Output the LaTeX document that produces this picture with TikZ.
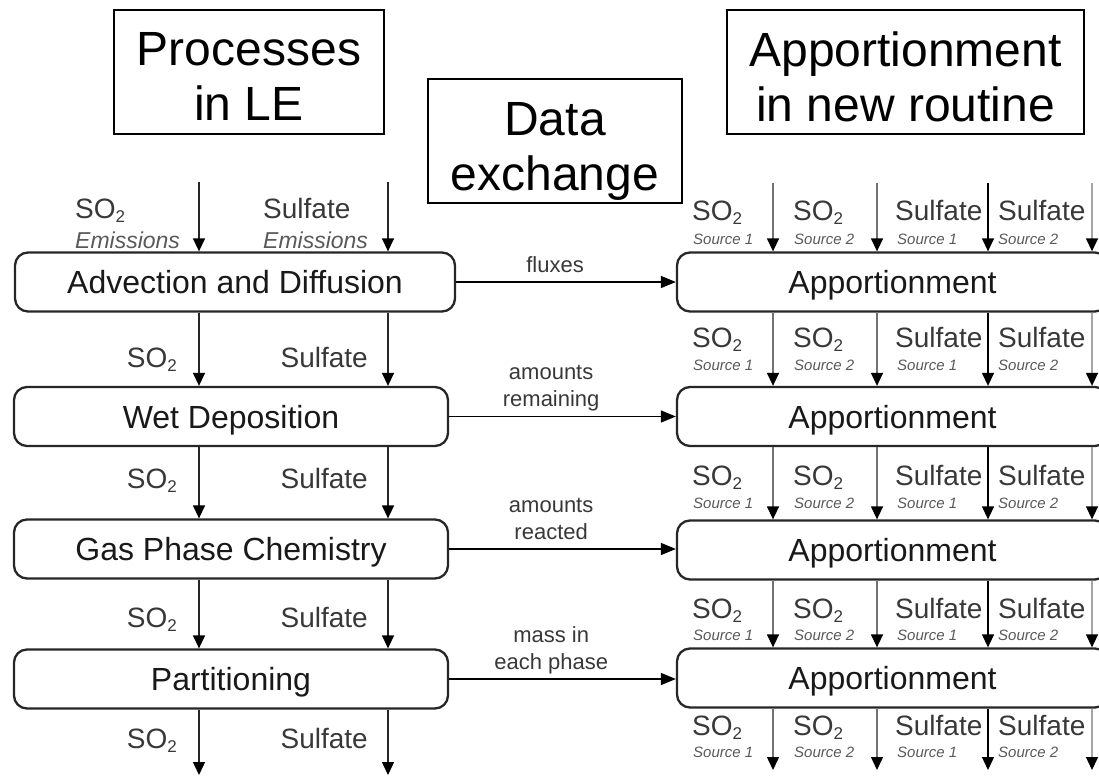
\documentclass[tikz,border=0pt]{standalone}
\usepackage{fontspec}
\setmainfont{Liberation Sans}
\usetikzlibrary{arrows.meta}
\newcommand{\SOtwo}{SO\raisebox{-4pt}{\fontsize{17}{17}\selectfont 2}}
\begin{document}
\begin{tikzpicture}[x=1pt,y=-1pt,
  hdr/.style={draw=black, line width=1.8pt, inner sep=0pt, minimum height=124pt},
  hdrtxt/.style={font=\fontsize{48}{55}\selectfont, align=center, inner sep=0pt, anchor=north},
  proc/.style={draw=black!85, line width=2.3pt, rounded corners=13pt, minimum height=59pt,
    inner sep=0pt, text height=23pt, text depth=0pt, font=\fontsize{32}{36}\selectfont, text=black!90},
  flow/.style={line width=1.4pt, draw=black!85, -{Triangle[length=13pt,width=12pt,color=black]}},
  xflow/.style={line width=1.5pt, draw=black, -{Triangle[length=15pt,width=12pt]}},
  lab/.style={font=\fontsize{28}{30}\selectfont, text=black!78, inner sep=0pt},
  emi/.style={font=\fontsize{23}{25}\selectfont\itshape, text=black!65, inner sep=0pt},
  src/.style={font=\fontsize{15}{17}\selectfont\itshape, text=black!65, inner sep=0pt},
  xlab/.style={font=\fontsize{22}{27}\selectfont, text=black!78, align=center, inner sep=0pt, text depth=0pt}
]
\useasboundingbox (0,0) rectangle (1099,777);
\clip (0,0) rectangle (1099,777);

% headers
\node[hdr, minimum width=270pt] (hP) at (249,72) {};
\node[hdrtxt] (hPt) at (249,32) {Processes\\in LE};
\node[hdr, minimum width=254pt] (hD) at (555,141) {};
\node[hdrtxt] (hDt) at (555,102) {Data\\exchange};
\node[hdr, minimum width=357pt] (hA) at (905.5,72) {};
\node[hdrtxt] (hAt) at (905.5,32) {Apportionment\\in new routine};

% left process boxes
\node[proc, minimum width=440pt] (L1) at (235,282) {Advection and Diffusion};
\node[proc, minimum width=434pt] (L2) at (231,416.5) {Wet Deposition};
\node[proc, minimum width=434pt] (L3) at (231,549) {Gas Phase Chemistry};
\node[proc, minimum width=434pt] (L4) at (231,679) {Partitioning};

% right apportionment boxes
\node[proc, minimum width=431pt] (R1) at (892.5,282) {Apportionment};
\node[proc, minimum width=431pt] (R2) at (892.5,416.5) {Apportionment};
\node[proc, minimum width=431pt] (R3) at (892.5,550) {Apportionment};
\node[proc, minimum width=431pt] (R4) at (892.5,678) {Apportionment};

% data exchange arrows
\draw[xflow] (L1.east) -- node[xlab, pos=0.45, above=9pt] (x1) {fluxes} (R1.west |- L1.east);
\draw[xflow] (L2.east) -- node[xlab, pos=0.45, above=9pt] (x2) {amounts\\remaining} (R2.west |- L2.east);
\draw[xflow] (L3.east) -- node[xlab, pos=0.45, above=9pt] (x3) {amounts\\reacted} (R3.west |- L3.east);
\draw[xflow] (L4.east) -- node[xlab, pos=0.45, above=9pt] (x4) {mass in\\each phase} (R4.west |- L4.east);

% left column flows
\coordinate (ea) at (199,182);
\coordinate (eb) at (388,182);
\coordinate (fa) at (199,775);
\coordinate (fb) at (388,775);
\foreach \c in {ea,eb}{
  \draw[flow] (\c) -- (\c |- L1.north);
  \draw[flow] (L1.south -| \c) -- (L2.north -| \c);
  \draw[flow] (L2.south -| \c) -- (L3.north -| \c);
  \draw[flow] (L3.south -| \c) -- (L4.north -| \c);
}
\draw[flow] (L4.south -| fa) -- (fa);
\draw[flow] (L4.south -| fb) -- (fb);

% left labels
\node[lab, anchor=base west] (t1) at (75,218) {\SOtwo};
\node[emi, anchor=base west] (t2) at (75,248) {Emissions};
\node[lab, anchor=base west] (t3) at (263,218) {Sulfate};
\node[emi, anchor=base west] (t4) at (263,248) {Emissions};
\foreach \y [count=\i] in {367,488,627,748}{
  \node[lab, anchor=base east] (ls\i) at (177,\y) {\SOtwo};
  \node[lab, anchor=base east] (lf\i) at (368,\y) {Sulfate};
}

% right column flows
\coordinate (s1) at (773,183);
\coordinate (s2) at (877,183);
\coordinate (s3) at (988,183);
\coordinate (s4) at (1092,183);
\coordinate (u1) at (773,770);
\coordinate (u2) at (877,770);
\coordinate (u3) at (988,770);
\coordinate (u4) at (1092,770);
\foreach \c/\u/\col in {s1/u1/black!55, s2/u2/black!55, s3/u3/black, s4/u4/black!35}{
  \draw[flow, draw=\col] (\c) -- (\c |- R1.north);
  \draw[flow, draw=\col] (R1.south -| \c) -- (R2.north -| \c);
  \draw[flow, draw=\col] (R2.south -| \c) -- (R3.north -| \c);
  \draw[flow, draw=\col] (R3.south -| \c) -- (R4.north -| \c);
  \draw[flow, draw=\col] (R4.south -| \u) -- (\u);
}

% right labels
\foreach \ya/\yb [count=\i] in {220/244, 347/370, 485/508, 618/640, 735/757}{
  \node[lab, anchor=base west] (ra\i) at (692,\ya) {\SOtwo};
  \node[src, anchor=base west] (rb\i) at (693,\yb) {Source 1};
  \node[lab, anchor=base west] (rc\i) at (793,\ya) {\SOtwo};
  \node[src, anchor=base west] (rd\i) at (794,\yb) {Source 2};
  \node[lab, anchor=base west] (re\i) at (895,\ya) {Sulfate};
  \node[src, anchor=base west] (rf\i) at (897,\yb) {Source 1};
  \node[lab, anchor=base west] (rg\i) at (998,\ya) {Sulfate};
  \node[src, anchor=base west] (rh\i) at (998,\yb) {Source 2};
}
\end{tikzpicture}
\end{document}
